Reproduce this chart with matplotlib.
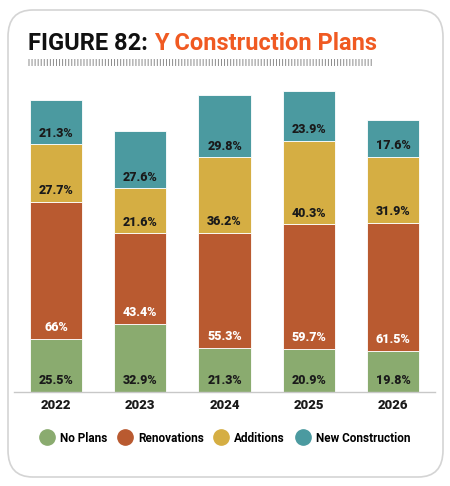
import matplotlib.pyplot as plt
import numpy as np
from matplotlib.patches import FancyBboxPatch
from matplotlib.lines import Line2D

# data
years = ["2022", "2023", "2024", "2025", "2026"]
series = ["No Plans", "Renovations", "Additions", "New Construction"]
no_plans = [25.5, 32.9, 21.3, 20.9, 19.8]
renovations = [66, 43.4, 55.3, 59.7, 61.5]
additions = [27.7, 21.6, 36.2, 40.3, 31.9]
new_construction = [21.3, 27.6, 29.8, 23.9, 17.6]
values = [no_plans, renovations, additions, new_construction]
colors = ["#8aab6f", "#b95a30", "#d5ae43", "#4b9aa0"]
label_colors = ["#1a1a1a", "white", "#1a1a1a", "#1a1a1a"]

font = "Roboto"

fig = plt.figure(figsize=(4.5, 4.86), dpi=100)

# rounded frame
frame = FancyBboxPatch((8 / 450, 9 / 486), 435 / 450, 467 / 486,
                       boxstyle="round,pad=0,rounding_size=0.055",
                       transform=fig.transFigure, facecolor="white",
                       edgecolor="#d4d4d4", linewidth=1.2, zorder=-5)
fig.add_artist(frame)

# title
t1 = fig.text(28 / 450, 1 - 50 / 486, "FIGURE 82: ", fontsize=17, fontweight="bold",
              family=font, color="#111111", va="baseline")
fig.canvas.draw()
bb = t1.get_window_extent()
fig.text(bb.x1 / 450, 1 - 50 / 486, "Y Construction Plans", fontsize=17, fontweight="bold",
         family=font, color="#f05a22", va="baseline")

# dotted rule under title
fig.add_artist(Line2D([28 / 450, 372 / 450], [1 - 62 / 486, 1 - 62 / 486],
                      transform=fig.transFigure, color="#8a8a8a", linewidth=5,
                      dashes=(0.14, 0.3), solid_capstyle="butt", dash_capstyle="butt"))

ax = fig.add_axes([14 / 450, 94 / 486, 421 / 450, 312 / 486])
ax.patch.set_alpha(0)
x = np.arange(len(years))
bottom = np.zeros(len(years))
for vals, c, lc in zip(values, colors, label_colors):
    ax.bar(x, vals, 0.62, bottom=bottom, color=c, edgecolor="white", linewidth=0.6)
    for xi, b, v in zip(x, bottom, vals):
        ax.text(xi, b + 5.3, f"{v:g}%", ha="center", va="center", fontsize=9,
                fontweight="black", family=font, color=lc)
    bottom += np.array(vals)

ax.set_xlim(-0.5, 4.5)
ax.set_ylim(0, 150)
for s in ["top", "right", "left"]:
    ax.spines[s].set_visible(False)
ax.spines["bottom"].set_color("#c8c8c8")
ax.spines["bottom"].set_linewidth(1)
ax.set_yticks([])
ax.set_xticks(x)
ax.set_xticklabels(years, fontsize=9.5, fontweight="black", family=font, color="#1a1a1a")
ax.tick_params(axis="x", length=0, pad=5)

handles = [Line2D([], [], marker="o", linestyle="", markersize=11, color=c) for c in colors]
fig.legend(handles, series, loc="center", bbox_to_anchor=(0.5, 1 - 438 / 486),
           ncol=4, frameon=False, handletextpad=0.5, columnspacing=0.9, handlelength=1.2,
           prop={"family": font, "weight": "bold", "size": 8.5})

fig.savefig("out.png", dpi=100)
